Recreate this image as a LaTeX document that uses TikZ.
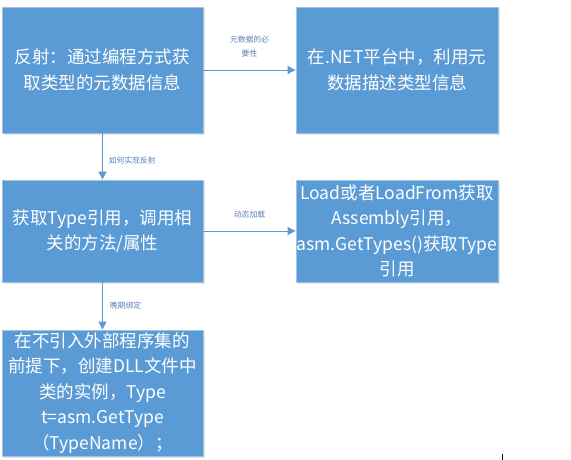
\documentclass[tikz,border=0pt]{standalone}
\usepackage{fontspec}
\setmainfont{Noto Sans CJK SC}
\usetikzlibrary{arrows.meta}
\definecolor{boxfill}{HTML}{5B9BD5}
\definecolor{boxline}{HTML}{9DC3E6}
\definecolor{arrowc}{HTML}{5B9BD5}
\definecolor{lblc}{HTML}{5A7FB8}
\tikzset{
  box/.style={rectangle, fill=boxfill, draw=boxline, line width=0.8pt, text=white,
    align=center, font=\fontsize{17.5}{25.5}\selectfont, inner sep=0pt},
  conn/.style={draw=arrowc, line width=0.8pt, -{Triangle[length=8pt,width=8pt]}},
  lbl/.style={text=lblc, font=\fontsize{7.8}{14}\selectfont, align=center, inner sep=0pt},
}
\begin{document}
\begin{tikzpicture}[x=1pt,y=-1pt]
\useasboundingbox (0,0) rectangle (571,460);
% shadows
\fill[black!10] (4,9) rectangle (205,135);
\fill[black!10] (298,9) rectangle (500,135);
\fill[black!10] (4,182) rectangle (205,284);
\fill[black!10] (298,182) rectangle (500,284);
\fill[black!10] (4,332) rectangle (205,458);
\node[box, minimum width=201pt, minimum height=126pt] (b1) at (102.5,70)
  {反射：通过编程方式获\\取类型的元数据信息};
\node[box, minimum width=202pt, minimum height=126pt] (b2) at (397,70)
  {在.NET平台中，利用元\\数据描述类型信息};
\node[box, minimum width=201pt, minimum height=102pt] (b3) at (102.5,231)
  {获取Type引用，调用相\\关的方法/属性};
\node[box, minimum width=202pt, minimum height=102pt] (b4) at (397,231)
  {Load或者LoadFrom获取\\Assembly引用，\\asm.GetTypes()获取Type\\引用};
\node[box, minimum width=201pt, minimum height=126pt] (b5) at (102.5,393)
  {在不引入外部程序集的\\前提下，创建DLL文件中\\类的实例，Type\\t=asm.GetType\\（TypeName）；};
\draw[conn] (b1.east) -- node[lbl, anchor=south, yshift=12pt] {元数据的必\\要性} (b2.west);
\draw[conn] (b1.south) -- node[lbl, anchor=west, xshift=6pt, pos=0.58] {如何实现反射} (b3.north);
\draw[conn] (b3.east) -- node[lbl, anchor=south, yshift=12pt] {动态加载} (b4.west);
\draw[conn] (b3.south) -- node[lbl, anchor=west, xshift=7pt, pos=0.5] {晚期绑定} (b5.north);
\coordinate (m1) at (502,454);
\coordinate (m2) at (502,460);
\draw[black, line width=0.6pt] (m1) -- (m2);
\end{tikzpicture}
\end{document}
